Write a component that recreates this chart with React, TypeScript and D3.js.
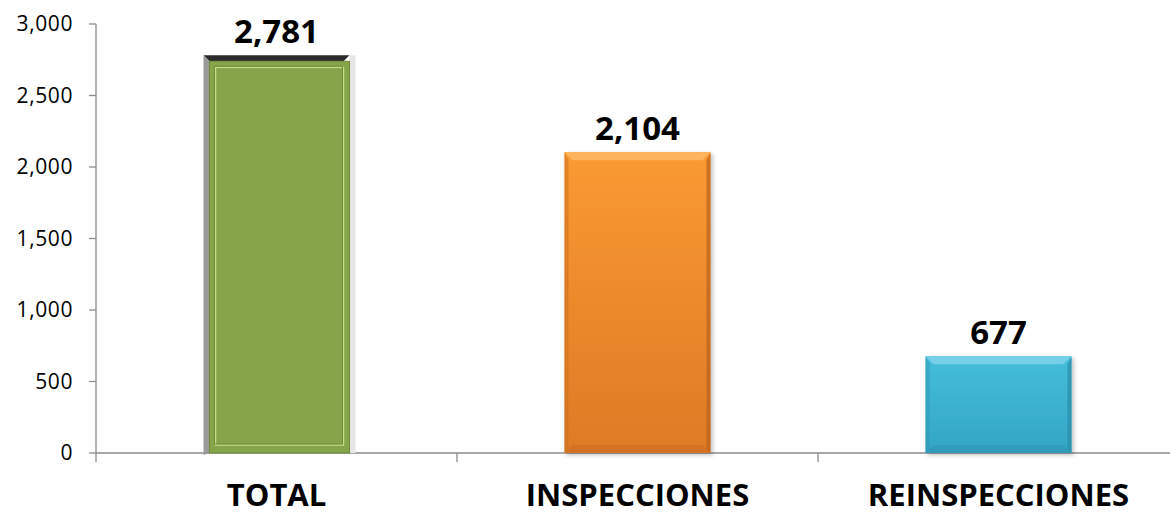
import React from "react";
import * as d3 from "d3";

const categories = ["TOTAL", "INSPECCIONES", "REINSPECCIONES"];
const values = [2781, 2104, 677];
const yTicks = [0, 500, 1000, 1500, 2000, 2500, 3000];

const W = 1170, H = 516;
const left = 96, right = 1179, top = 24, bottom = 453;

export default function App() {
  const x = d3.scaleBand<string>().domain(categories).range([left, right]).paddingInner(0).paddingOuter(0);
  const y = d3.scaleLinear().domain([0, 3000]).range([bottom, top]);
  const fmt = d3.format(",");
  const barW = 146;
  const font = "Open Sans, Calibri, sans-serif";
  const bev = 8;

  return (
    <svg width={W} height={H} style={{ position: "absolute", left: 0, top: 0 }}>
      <defs>
        <linearGradient id="gO" x1="0" y1="0" x2="0" y2="1">
          <stop offset="0" stopColor="#FA9A32" />
          <stop offset="1" stopColor="#DE7A26" />
        </linearGradient>
        <linearGradient id="gC" x1="0" y1="0" x2="0" y2="1">
          <stop offset="0" stopColor="#44BEDB" />
          <stop offset="1" stopColor="#33A5C4" />
        </linearGradient>
        <filter id="sh" x="-10%" y="-10%" width="130%" height="120%">
          <feDropShadow dx="2" dy="2" stdDeviation="2" floodColor="#000" floodOpacity="0.25" />
        </filter>
      </defs>
      <rect width={W} height={H} fill="#fff" />
      <line x1={left} y1={top} x2={left} y2={bottom} stroke="#8c8c8c" strokeWidth={1.3} />
      <line x1={left} y1={bottom} x2={W} y2={bottom} stroke="#8c8c8c" strokeWidth={1.3} />
      {yTicks.map((t) => (
        <g key={t}>
          <line x1={left - 7} x2={left} y1={y(t)} y2={y(t)} stroke="#8c8c8c" strokeWidth={1.3} />
          <text x={73} y={y(t)} dy="0.35em" textAnchor="end" fontFamily={font} fontSize={21} letterSpacing={0.6} fill="#000">
            {fmt(t)}
          </text>
        </g>
      ))}
      {categories.map((c, i) => (
        <line key={"t" + i} x1={x(c)!} x2={x(c)!} y1={bottom} y2={bottom + 9} stroke="#8c8c8c" strokeWidth={1.3} />
      ))}
      {categories.map((c, i) => {
        const cx = x(c)! + x.bandwidth() / 2;
        const x0 = cx - barW / 2, x1 = cx + barW / 2;
        const y0 = y(values[i]), y1 = y(0);
        let bar;
        if (i === 0) {
          bar = (
            <g>
              <rect x={x1} y={y0} width={6} height={y1 - y0} fill="#e6e6e6" />
              <polygon points={`${x0},${y0} ${x1},${y0} ${x1 - 6},${y0 + 6} ${x0 + 6},${y0 + 6}`} fill="#2b2b2b" />
              <polygon points={`${x0},${y0} ${x0 + 6},${y0 + 6} ${x0 + 6},${y1} ${x0},${y1 + 2}`} fill="#9a9a9a" />
              <rect x={x0 + 6} y={y0 + 6} width={barW - 6} height={y1 - y0 - 6} fill="#86A44A" stroke="#6E8A38" strokeWidth={1} />
              <rect x={x0 + 12} y={y0 + 12} width={barW - 18} height={y1 - y0 - 20} fill="none" stroke="#c8e08a" strokeWidth={1.5} />
              <rect x={x0 + 11} y={y0 + 11} width={barW - 18} height={y1 - y0 - 20} fill="none" stroke="#6f8b3a" strokeWidth={1} />
            </g>
          );
        } else {
          const fill = i === 1 ? "url(#gO)" : "url(#gC)";
          const light = i === 1 ? "#FDB863" : "#7FD5EA";
          const dark = i === 1 ? "#B8621C" : "#2A8AA6";
          const darkB = i === 1 ? "#C96D20" : "#2E95B2";
          bar = (
            <g filter="url(#sh)">
              <rect x={x0} y={y0} width={barW} height={y1 - y0} fill={fill} />
              <polygon points={`${x0},${y0} ${x1},${y0} ${x1 - bev},${y0 + bev} ${x0 + bev},${y0 + bev}`} fill={light} opacity={0.85} />
              <polygon points={`${x1},${y0} ${x1},${y1} ${x1 - 4},${y1 - 4} ${x1 - 4},${y0 + bev}`} fill={dark} opacity={0.7} />
              <polygon points={`${x0},${y0} ${x0 + 4},${y0 + bev} ${x0 + 4},${y1 - 4} ${x0},${y1}`} fill={darkB} opacity={0.5} />
              <polygon points={`${x0},${y1} ${x1},${y1} ${x1 - bev},${y1 - bev} ${x0 + bev},${y1 - bev}`} fill={darkB} opacity={0.6} />
            </g>
          );
        }
        return (
          <g key={c}>
            {bar}
            <text x={cx} y={y0 - 12} textAnchor="middle" fontFamily={font} fontWeight="bold" fontSize={33} fill="#000">
              {fmt(values[i])}
            </text>
            <text x={cx} y={506} textAnchor="middle" fontFamily={font} fontWeight="bold" fontSize={31} fill="#000">
              {c}
            </text>
          </g>
        );
      })}
    </svg>
  );
}
